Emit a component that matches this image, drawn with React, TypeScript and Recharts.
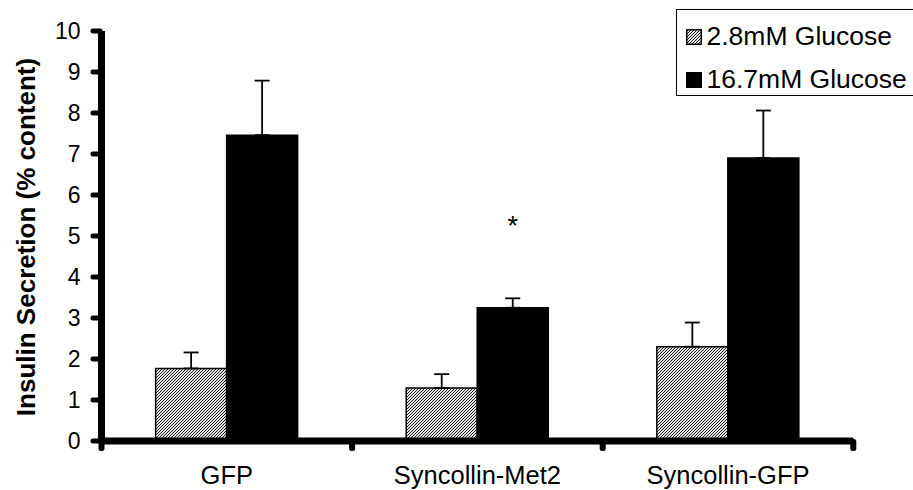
import React from 'react';
import { BarChart, Bar, XAxis, YAxis, ErrorBar, Legend, LabelList, Label } from 'recharts';

const groups = ['GFP', 'Syncollin-Met2', 'Syncollin-GFP'];
const seriesNames = ['2.8mM Glucose', '16.7mM Glucose'];
const lowGlucose = [1.77, 1.29, 2.3];
const lowGlucoseErr = [0.39, 0.34, 0.59];
const highGlucose = [7.46, 3.25, 6.9];
const highGlucoseErr = [1.33, 0.23, 1.16];
const significance = ['', '*', ''];
const yTicks = [0, 1, 2, 3, 4, 5, 6, 7, 8, 9, 10];

const data = groups.map((g, i) => ({
  group: g,
  low: lowGlucose[i],
  lowErr: [0, lowGlucoseErr[i]],
  high: highGlucose[i],
  highErr: [0, highGlucoseErr[i]],
  sig: significance[i],
}));

const FONT = "'Liberation Sans', Arial, sans-serif";
const W = 913;
const H = 490;
const MARGIN = { top: 31, right: 59.7, bottom: 19, left: 41.5 };
const Y_AXIS_W = 60;
const X_AXIS_H = 30;
const PLOT_W = W - MARGIN.left - MARGIN.right - Y_AXIS_W;
const BAND = PLOT_W / groups.length;
const AXIS_STROKE = { stroke: '#000', strokeWidth: 7 };

const XTick = (props: any) => {
  const { x, y, payload, index } = props;
  const half = BAND / 2;
  return (
    <g>
      <rect x={x - half - 3} y={y - 2} width={6} height={12} rx={2.5} fill="#000" />
      {index === groups.length - 1 && <rect x={x + half - 3} y={y - 2} width={6} height={12} rx={2.5} fill="#000" />}
      <text x={x} y={y + 43} textAnchor="middle" fontSize={25.5} fontFamily={FONT} fill="#000" stroke="none">
        {payload.value}
      </text>
    </g>
  );
};

const YTick = (props: any) => {
  const { x, y, payload } = props;
  return (
    <g>
      <rect x={x - 11} y={y - 2.5} width={12} height={5} rx={2.3} fill="#000" />
      <text x={x - 21} y={y} dy="0.36em" textAnchor="end" fontSize={23} fontFamily={FONT} fill="#000" stroke="none">
        {payload.value}
      </text>
    </g>
  );
};

const SigLabel = (props: any) => {
  const { x, y, width, value } = props;
  if (!value) return null;
  return (
    <text x={x + width / 2} y={y - 73} textAnchor="middle" fontSize={27} fontFamily={FONT} fill="#000">
      {value}
    </text>
  );
};

const HatchPattern = ({ id }: { id: string }) => (
  <pattern id={id} patternUnits="userSpaceOnUse" width="3" height="3">
    <rect width="3" height="3" fill="#e2e2e2" />
    <rect x="2" y="0" width="1" height="1" fill="#222" />
    <rect x="1" y="1" width="1" height="1" fill="#222" />
    <rect x="0" y="2" width="1" height="1" fill="#222" />
  </pattern>
);

const LegendBox = () => (
  <div
    style={{
      border: '1.5px solid #000',
      background: '#fff',
      width: 250,
      height: 87,
      boxSizing: 'border-box',
      fontFamily: FONT,
      fontSize: 26.5,
      color: '#000',
      paddingLeft: 8.5,
      paddingTop: 5,
    }}
  >
    {seriesNames.map((name, i) => (
      <div key={name} style={{ display: 'flex', alignItems: 'center', height: 43, whiteSpace: 'nowrap' }}>
        <svg width={16} height={16} style={{ marginRight: 5, flex: 'none' }}>
          <defs>
            <HatchPattern id="hatchLegend" />
          </defs>
          <rect x={0.75} y={0.75} width={14.5} height={14.5} fill={i === 0 ? 'url(#hatchLegend)' : '#000'} stroke="#000" strokeWidth={1.5} />
        </svg>
        <span>{name}</span>
      </div>
    ))}
  </div>
);

export default function App() {
  return (
    <div style={{ position: 'absolute', left: 0, top: 0, width: W, height: H, overflow: 'hidden', background: '#fff' }}>
      <BarChart width={W} height={H} data={data} margin={MARGIN} barCategoryGap="21.6%" barGap={0}>
        <defs>
          <HatchPattern id="hatch" />
        </defs>
        <Bar dataKey="low" name={seriesNames[0]} fill="url(#hatch)" stroke="#000" strokeWidth={1.5} isAnimationActive={false}>
          <ErrorBar dataKey="lowErr" width={7.5} stroke="#000" strokeWidth={1.8} />
        </Bar>
        <Bar dataKey="high" name={seriesNames[1]} fill="#000" stroke="#000" strokeWidth={1.5} isAnimationActive={false}>
          <ErrorBar dataKey="highErr" width={7.5} stroke="#000" strokeWidth={1.8} />
          <LabelList dataKey="sig" content={<SigLabel />} />
        </Bar>
        <XAxis
          dataKey="group"
          height={X_AXIS_H}
          tickLine={false}
          tickSize={0}
          tickMargin={0}
          axisLine={AXIS_STROKE}
          tick={<XTick />}
          interval={0}
        />
        <YAxis
          width={Y_AXIS_W}
          domain={[0, 10]}
          ticks={yTicks}
          tickLine={false}
          tickSize={0}
          tickMargin={0}
          axisLine={AXIS_STROKE}
          tick={<YTick />}
          interval={0}
        >
          <Label
            content={() => (
              <text
                transform="translate(35,237) rotate(-90)"
                textAnchor="middle"
                fontSize={26}
                fontWeight="bold"
                fontFamily={FONT}
                fill="#000"
                stroke="none"
              >
                Insulin Secretion (% content)
              </text>
            )}
          />
        </YAxis>
        <Legend
          layout="vertical"
          align="center"
          verticalAlign="middle"
          content={<LegendBox />}
          wrapperStyle={{ position: 'absolute', top: 9, left: 676, width: 250, height: 87 }}
        />
      </BarChart>
    </div>
  );
}
